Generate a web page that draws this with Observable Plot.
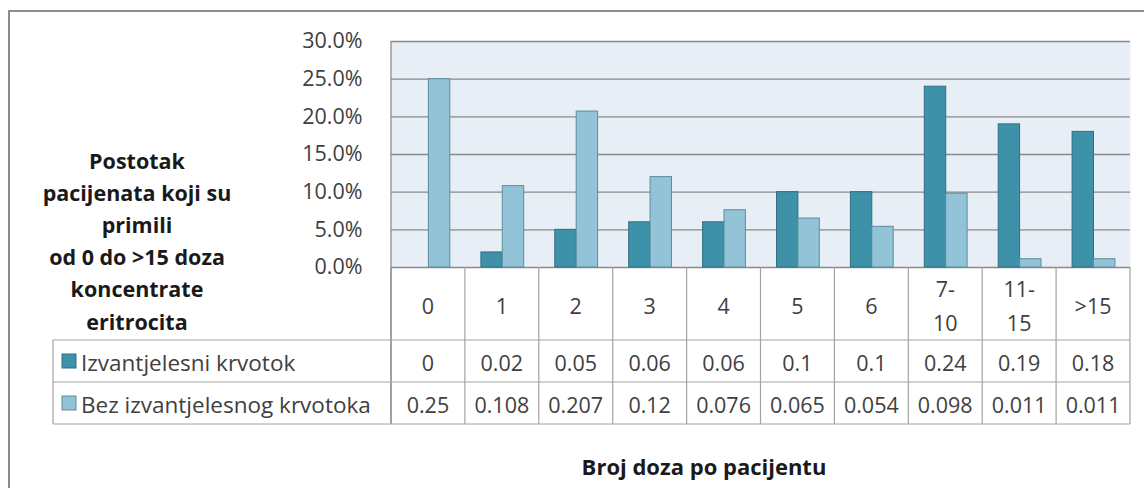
<!DOCTYPE html>
<html>
<head>
<meta charset="utf-8">
<script src="https://cdn.jsdelivr.net/npm/d3@7"></script>
<script src="https://cdn.jsdelivr.net/npm/@observablehq/plot@0.6"></script>
<style>
  html, body { margin: 0; padding: 0; background: #fff; }
  #wrap { position: relative; width: 1144px; height: 488px; overflow: hidden; }
  #border { position: absolute; left: 8px; top: 10px; width: 1200px; height: 600px;
            border-left: 2px solid #8c8c8c; border-top: 2px solid #8c8c8c; box-sizing: border-box; }
  #chart { position: absolute; left: 0; top: 0; }
  svg { font-family: "Open Sans", sans-serif; }
</style>
</head>
<body>
<div id="wrap"><div id="border"></div><div id="chart"></div></div>
<script>
const categories = ["0", "1", "2", "3", "4", "5", "6", "7-10", "11-15", ">15"];
const categoryLines = [["0"], ["1"], ["2"], ["3"], ["4"], ["5"], ["6"], ["7-", "10"], ["11-", "15"], [">15"]];
const seriesNames = ["Izvantjelesni krvotok", "Bez izvantjelesnog krvotoka"];
const izvantjelesni = [0, 0.02, 0.05, 0.06, 0.06, 0.1, 0.1, 0.24, 0.19, 0.18];
const bezIzvantjelesnog = [0.25, 0.108, 0.207, 0.12, 0.076, 0.065, 0.054, 0.098, 0.011, 0.011];
const yTicks = [0, 0.05, 0.10, 0.15, 0.20, 0.25, 0.30];
const yTitleLines = ["Postotak", "pacijenata koji su", "primili", "od 0 do >15 doza", "koncentrate", "eritrocita"];
const xTitle = "Broj doza po pacijentu";

const colors = ["#3d92aa", "#93c3d6"];
const strokes = ["#2f6f82", "#5a8c9e"];

const dataA = categories.map((c, i) => ({cat: c, v: izvantjelesni[i]}));
const dataB = categories.map((c, i) => ({cat: c, v: bezIzvantjelesnog[i]}));
const valueRows = [izvantjelesni, bezIzvantjelesnog];

const W = 1144, H = 488;
const mL = 391, mR = 14, mT = 41, mB = 221;
const FS = 21.5;

function table(index, scales, values, dims) {
  const x = scales.x, y = scales.y;
  const bw = x.bandwidth();
  const g = d3.create("svg:g").attr("text-anchor", "start");
  const y0 = y(0);
  const left = x(categories[0]);
  const right = x(categories[categories.length - 1]) + bw;
  const rowH = 42;
  const headerBottom = y0 + 73;
  const r1 = headerBottom, r2 = r1 + rowH, r3 = r2 + rowH;
  const tableLeft = 53;
  const lineColor = "#a3a3a3";

  categories.forEach((c) => {
    g.append("line").attr("x1", x(c)).attr("x2", x(c)).attr("y1", y0).attr("y2", r3)
      .attr("stroke", lineColor).attr("stroke-width", 1.2);
  });
  g.append("line").attr("x1", right).attr("x2", right).attr("y1", y0).attr("y2", r3)
    .attr("stroke", lineColor).attr("stroke-width", 1.2);
  g.append("line").attr("x1", left).attr("x2", left).attr("y1", y(0.3)).attr("y2", r3)
    .attr("stroke", "#8a8a8a").attr("stroke-width", 1.3);
  g.append("line").attr("x1", tableLeft).attr("x2", tableLeft).attr("y1", r1).attr("y2", r3)
    .attr("stroke", lineColor).attr("stroke-width", 1.2);
  [r1, r2, r3].forEach((yy) => {
    g.append("line").attr("x1", tableLeft).attr("x2", right).attr("y1", yy).attr("y2", yy)
      .attr("stroke", lineColor).attr("stroke-width", 1.2);
  });

  categoryLines.forEach((lines, i) => {
    const cx = x(categories[i]) + bw / 2;
    const cy = (y0 + headerBottom) / 2 + 2;
    const n = lines.length;
    lines.forEach((t, j) => {
      g.append("text").attr("x", cx).attr("y", cy + (j - (n - 1) / 2) * 34)
        .attr("text-anchor", "middle").attr("dominant-baseline", "central")
        .attr("font-size", FS).attr("fill", "#404040").text(t);
    });
  });

  valueRows.forEach((row, k) => {
    const cy = (k === 0 ? (r1 + r2) / 2 : (r2 + r3) / 2);
    row.forEach((v, i) => {
      g.append("text").attr("x", x(categories[i]) + bw / 2).attr("y", cy + 1)
        .attr("text-anchor", "middle").attr("dominant-baseline", "central")
        .attr("font-size", FS).attr("fill", "#404040").text(String(v));
    });
    g.append("rect").attr("x", 62).attr("y", cy - 7).attr("width", 14).attr("height", 14)
      .attr("fill", colors[k]).attr("stroke", strokes[k]).attr("stroke-width", 1);
    g.append("text").attr("x", 81).attr("y", cy + 1).attr("text-anchor", "start")
      .attr("dominant-baseline", "central")
      .attr("font-size", 22.5).attr("fill", "#404040").text(seriesNames[k]);
  });

  yTitleLines.forEach((t, j) => {
    g.append("text").attr("x", 137).attr("y", 160 + j * 32.2)
      .attr("text-anchor", "middle").attr("dominant-baseline", "central")
      .attr("font-size", 21.5).attr("font-weight", "bold").attr("fill", "#1a1a1a").text(t);
  });
  g.append("text").attr("x", 704).attr("y", 466)
    .attr("text-anchor", "middle").attr("dominant-baseline", "central")
    .attr("font-size", 22).attr("font-weight", "bold").attr("fill", "#1a1a1a").text(xTitle);
  return g.node();
}

const bw = (W - mL - mR) / categories.length;
const barW = 21.4;
const chart = Plot.plot({
  width: W, height: H,
  marginLeft: mL, marginRight: mR, marginTop: mT, marginBottom: mB,
  style: {background: "transparent", fontFamily: "Open Sans, sans-serif", fontSize: FS + "px", color: "#404040"},
  x: {type: "band", domain: categories, padding: 0, round: false, axis: null},
  y: {domain: [0, 0.3], ticks: yTicks, tickFormat: d => (d * 100).toFixed(1) + "%", tickSize: 0, tickPadding: 29, label: null},
  marks: [
    Plot.frame({fill: "#e7eef5", stroke: "none"}),
    Plot.ruleY(yTicks, {y: d => d, stroke: "#8a8a8a", strokeWidth: 1.4}),
    Plot.barY(dataA, {x: "cat", y: "v", fill: colors[0], stroke: strokes[0], strokeWidth: 1,
      insetLeft: 16, insetRight: bw - 16 - barW}),
    Plot.barY(dataB, {x: "cat", y: "v", fill: colors[1], stroke: strokes[1], strokeWidth: 1,
      insetLeft: 16 + barW, insetRight: bw - 16 - 2 * barW}),
    table
  ]
});
document.getElementById("chart").appendChild(chart);
</script>
</body>
</html>
